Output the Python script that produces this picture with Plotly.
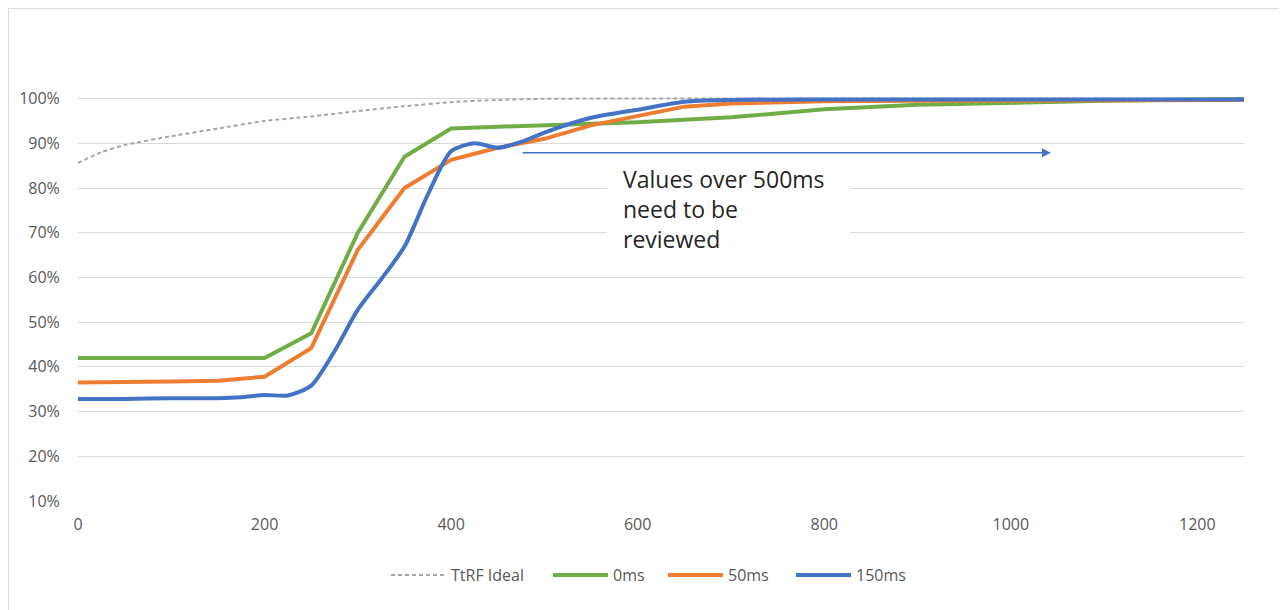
import plotly.graph_objects as go

# ---- data ----
ideal_x = [0, 25, 50, 100, 150, 200, 250, 300, 350, 400, 450, 500, 550, 600, 700, 800, 1000, 1250]
ideal_y = [85.6, 88.0, 89.6, 91.6, 93.3, 95.0, 96.0, 97.2, 98.3, 99.2, 99.7, 99.95, 100, 100, 100, 100, 100, 100]

ms0_x = [0, 50, 100, 150, 200, 250, 300, 350, 400, 450, 500, 550, 600, 700, 800, 900, 1000, 1100, 1200, 1250]
ms0_y = [42, 42, 42, 42, 42, 47.5, 70, 87, 93.3, 93.7, 94.0, 94.3, 94.7, 95.8, 97.6, 98.6, 99.1, 99.5, 99.8, 99.9]

ms50_x = [0, 50, 100, 150, 200, 250, 300, 350, 400, 450, 500, 550, 600, 650, 700, 800, 900, 1000, 1100, 1200, 1250]
ms50_y = [36.5, 36.5, 36.7, 36.9, 37.8, 44.2, 66.2, 80, 86.3, 89, 91, 94, 96.2, 98.2, 98.9, 99.4, 99.5, 99.6, 99.7, 99.7, 99.7]

ms150_x = [0, 50, 100, 150, 175, 200, 225, 250, 275, 300, 325, 350, 375, 400, 425, 450, 475, 500, 550, 600, 650, 700, 800, 900, 1000, 1100, 1200, 1250]
ms150_y = [32.8, 32.8, 33.0, 33.0, 33.2, 33.7, 33.6, 35.8, 43.5, 52.8, 59.6, 66.9, 78.5, 88.2, 90.0, 89.0, 90.3, 92.4, 95.7, 97.5, 99.3, 99.7, 99.8, 99.8, 99.8, 99.8, 99.8, 99.8]

y_ticks = [10, 20, 30, 40, 50, 60, 70, 80, 90, 100]
x_ticks = [0, 200, 400, 600, 800, 1000, 1200]

note_text = "Values over 500ms<br>need to be<br>reviewed"
arrow_from, arrow_to, arrow_level = 475, 1043, 87.9

GREEN, ORANGE, BLUE, GREY = "#70AD47", "#ED7D31", "#4472C4", "#A6A6A6"
FONT = "Open Sans"

# figure geometry (page body has an 8px margin)
W, H = 1279, 602
ML, MR, MT, MB = 70, 43, 87, 109
PW, PH = W - ML - MR, H - MT - MB

fig = go.Figure()
fig.add_trace(go.Scatter(x=ideal_x, y=[v / 100 for v in ideal_y], name="TtRF Ideal", mode="lines",
                         legend="legend",
                         line=dict(color=GREY, width=2, dash="4px,3px", shape="spline", smoothing=0.6)))
fig.add_trace(go.Scatter(x=ms0_x, y=[v / 100 for v in ms0_y], name="0ms", mode="lines",
                         legend="legend2", line=dict(color=GREEN, width=4)))
fig.add_trace(go.Scatter(x=ms50_x, y=[v / 100 for v in ms50_y], name="50ms", mode="lines",
                         legend="legend3", line=dict(color=ORANGE, width=4)))
fig.add_trace(go.Scatter(x=ms150_x, y=[v / 100 for v in ms150_y], name="150ms", mode="lines",
                         legend="legend4",
                         line=dict(color=BLUE, width=4, shape="spline", smoothing=0.7)))

# white box behind the note (hides gridlines)
fig.add_shape(type="rect", xref="x", yref="y", x0=567, x1=828, y0=0.64, y1=0.86,
              fillcolor="white", line=dict(width=0), layer="between")
# outer chart border
fig.add_shape(type="rect", xref="paper", yref="paper",
              x0=(0.5 - ML) / PW, x1=(W - 2.5 - ML) / PW,
              y0=(H - MB - 700) / PH, y1=(H - MB - 0.5) / PH,
              line=dict(color="#D9D9D9", width=1), fillcolor="rgba(0,0,0,0)", layer="below")

fig.add_annotation(x=arrow_to, y=arrow_level / 100, ax=arrow_from, ay=arrow_level / 100,
                   xref="x", yref="y", axref="x", ayref="y", text="", showarrow=True,
                   arrowhead=2, arrowsize=1.2, arrowwidth=1.5, arrowcolor=BLUE)
fig.add_annotation(x=582, y=0.861, xref="x", yref="y", text=note_text, showarrow=False,
                   xanchor="left", yanchor="top", align="left",
                   font=dict(family=FONT, size=23, color="#262626"))


def legend_at(screen_x):
    return dict(orientation="h", x=(screen_x - 8 - ML) / PW, xanchor="left",
                y=(H - MB - 567) / PH, yanchor="middle",
                font=dict(family=FONT, size=16, color="#595959"), itemwidth=55,
                bgcolor="rgba(0,0,0,0)")


fig.update_layout(
    width=W, height=H,
    margin=dict(l=ML, r=MR, t=MT, b=MB),
    paper_bgcolor="white", plot_bgcolor="white",
    font=dict(family=FONT, color="#595959", size=16),
    showlegend=True,
    legend=legend_at(386),
    legend2=legend_at(548),
    legend3=legend_at(663),
    legend4=legend_at(791),
)
fig.update_xaxes(range=[0, 1250], tickvals=x_ticks, ticktext=[str(v) for v in x_ticks],
                 showgrid=False, zeroline=False, showline=False,
                 ticks="outside", ticklen=9, tickcolor="rgba(0,0,0,0)",
                 tickfont=dict(family=FONT, size=16, color="#595959"))
fig.update_yaxes(range=[0.1, 1.008], tickvals=[v / 100 for v in y_ticks],
                 ticktext=[f"{v}%" for v in y_ticks],
                 showgrid=True, gridcolor="#D9D9D9", gridwidth=1, zeroline=False, showline=False,
                 ticks="outside", ticklen=14, tickcolor="rgba(0,0,0,0)",
                 tickfont=dict(family=FONT, size=16, color="#595959"))

fig.write_html("out.html")
